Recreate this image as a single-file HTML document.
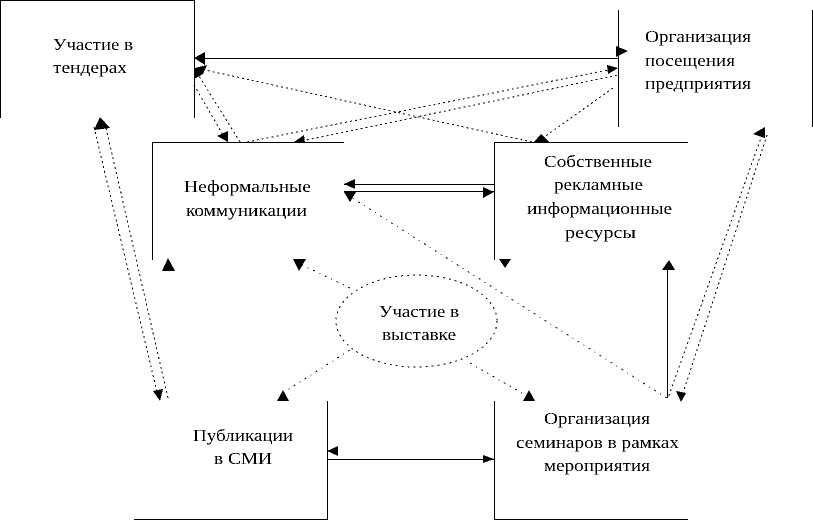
<!DOCTYPE html>
<html><head><meta charset="utf-8"><style>
html,body{margin:0;padding:0;background:#fff}
svg{display:block}
text{font-family:"Liberation Serif","Noto Serif CJK SC",serif;font-size:16.5px;fill:#000}
.l{stroke:#000;stroke-width:1;fill:none;shape-rendering:crispEdges}
.d{stroke:#000;stroke-width:1;fill:none;stroke-dasharray:2 3}
.dd{stroke:#000;stroke-width:1;fill:none;stroke-dasharray:2 5 1 5}
.e{stroke:#000;stroke-width:1;fill:none;stroke-dasharray:2 4}
</style></head><body>
<svg width="813" height="520" viewBox="0 0 813 520" xmlns="http://www.w3.org/2000/svg">
<defs><filter id="t" x="0" y="0" width="813" height="520" filterUnits="userSpaceOnUse" color-interpolation-filters="sRGB"><feComponentTransfer><feFuncA type="discrete" tableValues="0 0 1 1"/></feComponentTransfer></filter></defs>
<g filter="url(#t)">
<path class="l" d="M.5 118V.5H194.5V118"/>
<path class="l" d="M152.5 260V142.5H344"/>
<path class="l" d="M494.5 260V142.5H688"/>
<path class="l" d="M618.5 10V127M812.5 10V127"/>
<path class="l" d="M327.5 401V519.5H134"/>
<path class="l" d="M494.5 401V519.5H688"/>
<path class="l" d="M194 58.5H618M344 184.5H494M344 191.5H494M327 459.5H494M667.5 262V398"/>
<path class="d" d="M247 142L618 68M297 142L618 75M532 142L205 70M194 85L226 140M240 142L199 76M613 88L540 140"/>
<path class="d" d="M106 128L168 398M94 127L158 396M767 135L684 390M762 135L668 398"/>
<path class="dd" d="M667 398L346 194M350 288L298 263M350 350L278 396M470 363L532 399"/>
<ellipse class="e" cx="416.5" cy="321" rx="80.500" ry="46"/>
<g fill="#000">
<polygon points="194,58 205,52 205,65"/>
<polygon points="628,51 616,46 616,57"/>
<polygon points="194,79 195,68 207,65 203,74"/>
<polygon points="618,68 607,65 608,74"/>
<polygon points="294,142 304,135 305,143"/>
<polygon points="228,142 228,131 217,136"/>
<polygon points="541,134 534,142 549,142"/>
<polygon points="344,184 355,179 355,189"/>
<polygon points="494,192 483,187 483,198"/>
<polygon points="344,192 356,192 350,202"/>
<polygon points="100,117 110,128 94,130"/>
<polygon points="160,401 153,391 163,389"/>
<polygon points="168,258 162,271 175,271"/>
<polygon points="299,271 293,259 306,259"/>
<polygon points="505,268 499,259 511,259"/>
<polygon points="669,260 662,270 675,270"/>
<polygon points="765,127 753,134 765,138"/>
<polygon points="681,402 676,391 686,393"/>
<polygon points="283,390 277,401 289,401"/>
<polygon points="529,390 523,401 535,401"/>
<polygon points="327,451 338,446 338,456"/>
<polygon points="494,459 483,455 483,463"/>
</g>
<text x="53" y="50" textLength="80" lengthAdjust="spacingAndGlyphs">Участие в</text>
<text x="53" y="73" textLength="74" lengthAdjust="spacingAndGlyphs">тендерах</text>
<text x="184" y="192" textLength="127" lengthAdjust="spacingAndGlyphs">Неформальные</text>
<text x="186" y="216" textLength="121" lengthAdjust="spacingAndGlyphs">коммуникации</text>
<text x="544" y="167" textLength="108" lengthAdjust="spacingAndGlyphs">Собственные</text>
<text x="554" y="190" textLength="89" lengthAdjust="spacingAndGlyphs">рекламные</text>
<text x="527" y="214" textLength="145" lengthAdjust="spacingAndGlyphs">информационные</text>
<text x="565" y="238" textLength="71" lengthAdjust="spacingAndGlyphs">ресурсы</text>
<text x="645" y="42" textLength="106" lengthAdjust="spacingAndGlyphs">Организация</text>
<text x="645" y="66" textLength="90" lengthAdjust="spacingAndGlyphs">посещения</text>
<text x="645" y="89" textLength="106" lengthAdjust="spacingAndGlyphs">предприятия</text>
<text x="379" y="317" textLength="80" lengthAdjust="spacingAndGlyphs">Участие в</text>
<text x="382" y="340" textLength="74" lengthAdjust="spacingAndGlyphs">выставке</text>
<text x="193" y="441" textLength="100" lengthAdjust="spacingAndGlyphs">Публикации</text>
<text x="214" y="464" textLength="58" lengthAdjust="spacingAndGlyphs">в СМИ</text>
<text x="544" y="424" textLength="106" lengthAdjust="spacingAndGlyphs">Организация</text>
<text x="516" y="448" textLength="163" lengthAdjust="spacingAndGlyphs">семинаров в рамках</text>
<text x="544" y="471" textLength="106" lengthAdjust="spacingAndGlyphs">мероприятия</text>
</g>
</svg>
</body></html>
